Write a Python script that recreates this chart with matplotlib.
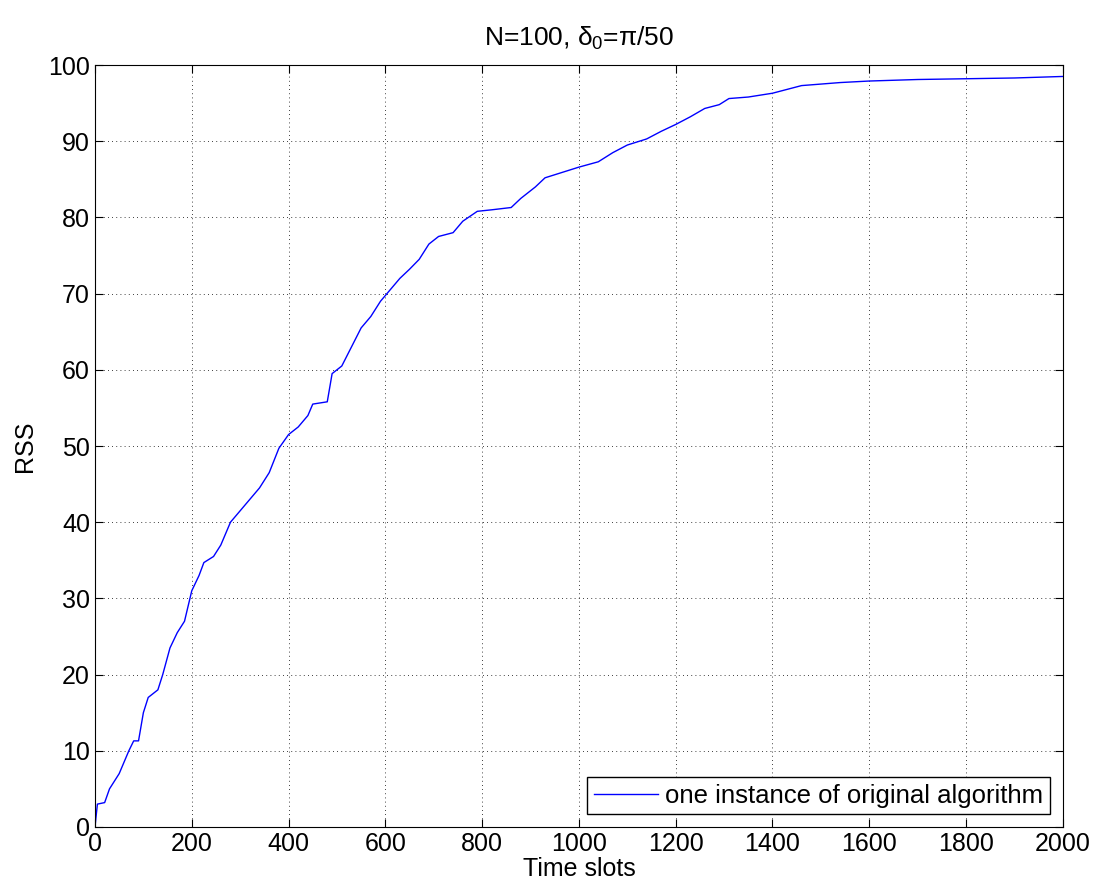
import matplotlib
matplotlib.use("Agg")
import matplotlib.pyplot as plt

# values
t = [0, 5, 20, 30, 50, 70, 80, 90, 100, 110, 130, 140, 155, 170, 185,
     200, 215, 225, 245, 260, 280, 300, 320, 340, 360, 380, 400, 420,
     440, 450, 480, 490, 510, 530, 550, 570, 590, 610, 630, 650, 670,
     690, 710, 740, 760, 790, 820, 860, 880, 910, 930, 960, 1000, 1040,
     1070, 1100, 1140, 1170, 1200, 1230, 1260, 1290, 1310, 1350, 1400,
     1430, 1460, 1500, 1540, 1600, 1700, 1800, 1900, 2000]
rss = [0, 3.0, 3.2, 5.0, 7.0, 10.0, 11.3, 11.3, 15.0, 17.0, 18.0, 20.0,
       23.5, 25.5, 27.0, 31.0, 33.0, 34.7, 35.5, 37.0, 40.0, 41.5, 43.0,
       44.5, 46.5, 49.7, 51.5, 52.5, 54.0, 55.5, 55.8, 59.5, 60.5, 63.0,
       65.5, 67.0, 69.0, 70.5, 72.0, 73.2, 74.5, 76.5, 77.5, 78.0, 79.5,
       80.8, 81.0, 81.3, 82.5, 84.0, 85.2, 85.8, 86.6, 87.3, 88.5, 89.5,
       90.3, 91.3, 92.2, 93.2, 94.3, 94.8, 95.6, 95.8, 96.3, 96.8, 97.3,
       97.5, 97.7, 97.9, 98.1, 98.2, 98.3, 98.5]

plt.rcParams['font.family'] = ['Liberation Sans', 'DejaVu Sans']
plt.rcParams['mathtext.fontset'] = 'custom'
plt.rcParams['mathtext.rm'] = 'Liberation Sans'
plt.rcParams['mathtext.it'] = 'Liberation Sans'

fs = 18

fig = plt.figure(figsize=(10.98, 8.92), dpi=100)
ax = fig.add_axes([0.0865, 0.0729, 0.8815, 0.8542])

ax.plot(t, rss, color='blue', linewidth=1,
        label='one instance of original algorithm')

ax.set_xlim(0, 2000)
ax.set_ylim(0, 100)
ax.set_xticks(range(0, 2001, 200))
ax.set_yticks(range(0, 101, 10))
ax.tick_params(direction='in', top=True, right=True, labelsize=fs, length=6)
ax.grid(True, linestyle=(0, (1, 4)), color='black', linewidth=0.6)

ax.set_xlabel('Time slots', fontsize=fs, labelpad=1)
ax.set_ylabel('RSS', fontsize=fs, labelpad=8)
ax.set_title(r'N=100, $\delta_0$=$\pi$/50', fontsize=19, pad=14)

leg = ax.legend(loc='lower right', fontsize=18.5, fancybox=False,
                edgecolor='black', framealpha=1, borderaxespad=0.5,
                handlelength=2.5, handletextpad=0.3, borderpad=0.25)
leg.get_frame().set_linewidth(1)

fig.savefig('out.png', dpi=100)
